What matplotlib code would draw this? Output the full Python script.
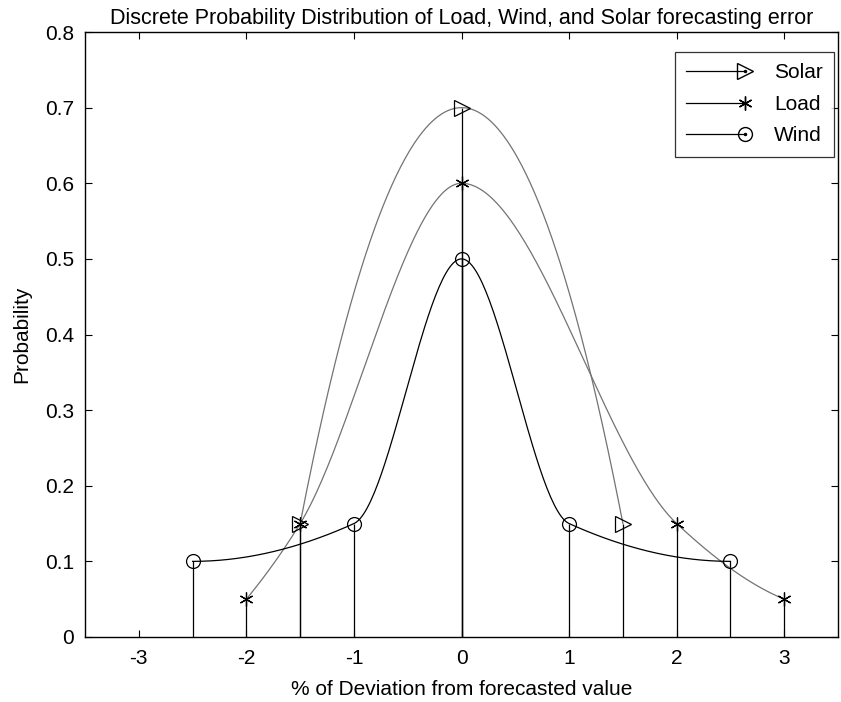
import numpy as np
import matplotlib
matplotlib.use("Agg")
import matplotlib.pyplot as plt
from matplotlib.lines import Line2D
from matplotlib.legend_handler import HandlerBase

plt.rcParams['font.family'] = ['Liberation Sans', 'DejaVu Sans']

# forecasting error levels (% deviation) and their probabilities
solar_x = [-1.5, 0, 1.5]
solar_p = [0.15, 0.7, 0.15]
load_x = [-2, -1.5, 0, 2, 3]
load_p = [0.05, 0.15, 0.6, 0.15, 0.05]
wind_x = [-2.5, -1, 0, 1, 2.5]
wind_p = [0.1, 0.15, 0.5, 0.15, 0.1]
x_ticks = [-3, -2, -1, 0, 1, 2, 3]
y_ticks = [0, 0.1, 0.2, 0.3, 0.4, 0.5, 0.6, 0.7, 0.8]

FS = 15


def pchip(x, y, xs):
    # shape preserving cubic through the points (like matlab pchip)
    x = np.asarray(x, float)
    y = np.asarray(y, float)
    h = np.diff(x)
    d = np.diff(y) / h
    n = len(x)
    m = np.zeros(n)
    for k in range(1, n - 1):
        if d[k - 1] * d[k] > 0:
            w1 = 2 * h[k] + h[k - 1]
            w2 = h[k] + 2 * h[k - 1]
            m[k] = (w1 + w2) / (w1 / d[k - 1] + w2 / d[k])
    def end_slope(h0, h1, d0, d1):
        s = ((2 * h0 + h1) * d0 - h0 * d1) / (h0 + h1)
        if np.sign(s) != np.sign(d0):
            s = 0.0
        elif np.sign(d0) != np.sign(d1) and abs(s) > abs(3 * d0):
            s = 3 * d0
        return s
    m[0] = end_slope(h[0], h[1], d[0], d[1])
    m[-1] = end_slope(h[-1], h[-2], d[-1], d[-2])
    idx = np.clip(np.searchsorted(x, xs) - 1, 0, n - 2)
    t = (xs - x[idx]) / h[idx]
    h00 = 2 * t**3 - 3 * t**2 + 1
    h10 = t**3 - 2 * t**2 + t
    h01 = -2 * t**3 + 3 * t**2
    h11 = t**3 - t**2
    return h00 * y[idx] + h10 * h[idx] * m[idx] + h01 * y[idx + 1] + h11 * h[idx] * m[idx + 1]


class StemKey(HandlerBase):
    # legend key: line with the marker at its right end
    def create_artists(self, legend, orig, xd, yd, w, h, fs, trans):
        y = h / 2 - yd
        ln = Line2D([-xd, w - xd], [y, y], color='black', lw=0.9, transform=trans)
        mk = Line2D([w - xd], [y], marker=orig.get_marker(), markersize=orig.get_markersize(),
                    markerfacecolor='none', markeredgecolor='black', linestyle='none',
                    transform=trans)
        dot = Line2D([w - xd], [y], marker='.', markersize=3, color='black',
                     linestyle='none', transform=trans)
        return [ln, mk, dot]


fig = plt.figure(figsize=(8.41, 7.02), dpi=100)
ax = fig.add_axes([0.1011, 0.0926, 0.8954, 0.8618])

series = [
    (solar_x, solar_p, '>', 11, '0.45', 'Solar'),
    (load_x, load_p, (6, 2, 0), 10, '0.45', 'Load'),
    (wind_x, wind_p, 'o', 10, 'black', 'Wind'),
]

handles = []
for xs, ps, mk, ms, col, name in series:
    ax.vlines(xs, 0, ps, color='black', lw=0.9, zorder=2)
    xf = np.linspace(xs[0], xs[-1], 300)
    ax.plot(xf, pchip(xs, ps, xf), color=col, lw=0.9, zorder=3)
    h, = ax.plot(xs, ps, linestyle='none', marker=mk, markersize=ms,
                 markerfacecolor='none', markeredgecolor='black', markeredgewidth=0.9,
                 zorder=4, label=name)
    handles.append(h)

ax.set_xlim(-3.5, 3.5)
ax.set_ylim(0, 0.8)
ax.set_xticks(x_ticks)
ax.set_xticklabels([str(v) for v in x_ticks])
ax.set_yticks(y_ticks)
ax.set_yticklabels(['0'] + ['%.1f' % v for v in y_ticks[1:]])
ax.tick_params(direction='in', top=True, right=True, length=5, width=0.8,
               labelsize=FS)
ax.tick_params(axis='x', pad=9)
ax.tick_params(axis='y', pad=8)
for s in ax.spines.values():
    s.set_linewidth(1.0)

ax.set_title('Discrete Probability Distribution of Load, Wind, and Solar forecasting error',
             fontsize=FS + 0.5, pad=6)
ax.set_xlabel('% of Deviation from forecasted value', fontsize=FS, labelpad=8)
ax.set_ylabel('Probability', fontsize=FS, labelpad=10)

leg = ax.legend(handles=handles, handler_map={h: StemKey() for h in handles},
                loc='upper right', bbox_to_anchor=(0.9947, 0.967), borderaxespad=0,
                fontsize=FS, frameon=True, fancybox=False, handlelength=2.8,
                handletextpad=1.4, labelspacing=0.6, borderpad=0.55)
leg.get_frame().set_edgecolor('black')
leg.get_frame().set_linewidth(0.9)

fig.savefig('out.png', dpi=100)
